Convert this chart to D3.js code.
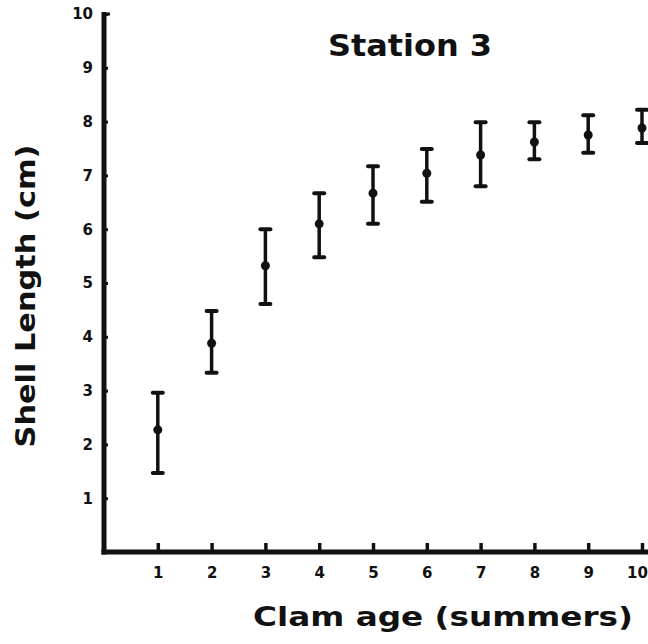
<!DOCTYPE html>
<html><head><meta charset="utf-8">
<script src="https://cdn.jsdelivr.net/npm/d3@7"></script>
<style>body{margin:0;background:#fff}</style>
</head><body>
<svg id="c" width="648" height="644"></svg>
<script>
const ages = [1, 2, 3, 4, 5, 6, 7, 8, 9, 10];
const meanLength  = [2.27, 3.88, 5.32, 6.10, 6.67, 7.04, 7.38, 7.62, 7.75, 7.88];
const upperLength = [2.96, 4.48, 6.00, 6.67, 7.17, 7.49, 7.99, 7.99, 8.12, 8.22];
const lowerLength = [1.47, 3.33, 4.61, 5.48, 6.10, 6.51, 6.80, 7.30, 7.42, 7.60];
const yTicks = [1, 2, 3, 4, 5, 6, 7, 8, 9, 10];
const xTicks = [1, 2, 3, 4, 5, 6, 7, 8, 9, 10];
const chartTitle = "Station 3";
const xTitle = "Clam age (summers)";
const yTitle = "Shell Length (cm)";

const W = 648, H = 644;
const ink = "#111";
const font = "'DejaVu Sans', 'Liberation Sans', sans-serif";
const svg = d3.select("#c");
svg.append("rect").attr("width", W).attr("height", H).attr("fill", "#fff");

const x = d3.scaleLinear().domain([0, 10]).range([104, 642]);
const y = d3.scaleLinear().domain([0, 10]).range([552, 14]);

// Y axis
const gy = svg.append("g").attr("transform", `translate(${x(0)},0)`)
  .call(d3.axisLeft(y).tickValues(yTicks).tickSizeInner(-4).tickSizeOuter(0)
    .tickPadding(11).tickFormat(d3.format("d")));
gy.select(".domain").remove();
gy.selectAll(".tick line").attr("stroke", ink).attr("stroke-width", 3);
gy.selectAll(".tick text").attr("fill", ink).attr("font-family", font)
  .attr("font-weight", "bold").attr("font-size", 15);

// X axis
const gx = svg.append("g").attr("transform", `translate(0,${y(0)})`)
  .call(d3.axisBottom(x).tickValues(xTicks).tickSizeInner(-9).tickSizeOuter(0)
    .tickPadding(15).tickFormat(d3.format("d")));
gx.select(".domain").remove();
gx.selectAll(".tick line").attr("stroke", ink).attr("stroke-width", 3.5);
gx.selectAll(".tick text").attr("fill", ink).attr("font-family", font)
  .attr("font-weight", "bold").attr("font-size", 15)
  .attr("dx", d => d === 10 ? -5 : 0);

// axis lines
svg.append("line").attr("x1", x(0)).attr("x2", x(0))
  .attr("y1", y(0) + 2.5).attr("y2", y(10) - 2)
  .attr("stroke", ink).attr("stroke-width", 5);
svg.append("line").attr("x1", x(0) - 2.5).attr("x2", W)
  .attr("y1", y(0)).attr("y2", y(0))
  .attr("stroke", ink).attr("stroke-width", 5);
svg.append("line").attr("x1", x(0) - 2).attr("x2", x(0) + 6)
  .attr("y1", y(10)).attr("y2", y(10))
  .attr("stroke", ink).attr("stroke-width", 3);

// error bars
const data = ages.map((a, i) => ({a, m: meanLength[i], u: upperLength[i], l: lowerLength[i]}));
const g = svg.append("g");
g.selectAll("line.stem").data(data).join("line").attr("class", "stem")
  .attr("x1", d => x(d.a)).attr("x2", d => x(d.a))
  .attr("y1", d => y(d.u)).attr("y2", d => y(d.l))
  .attr("stroke", ink).attr("stroke-width", 3.5);
g.selectAll("line.capU").data(data).join("line").attr("class", "capU")
  .attr("x1", d => x(d.a) - 5).attr("x2", d => x(d.a) + 5)
  .attr("y1", d => y(d.u)).attr("y2", d => y(d.u))
  .attr("stroke", ink).attr("stroke-width", 4).attr("stroke-linecap", "round");
g.selectAll("line.capL").data(data).join("line").attr("class", "capL")
  .attr("x1", d => x(d.a) - 5).attr("x2", d => x(d.a) + 5)
  .attr("y1", d => y(d.l)).attr("y2", d => y(d.l))
  .attr("stroke", ink).attr("stroke-width", 4).attr("stroke-linecap", "round");
g.selectAll("circle").data(data).join("circle")
  .attr("cx", d => x(d.a)).attr("cy", d => y(d.m)).attr("r", 4.5).attr("fill", ink);

// titles
svg.append("text").attr("x", 410).attr("y", 56).attr("text-anchor", "middle")
  .attr("font-family", font).attr("font-weight", "bold").attr("font-size", 30)
  .attr("textLength", 164).attr("lengthAdjust", "spacingAndGlyphs")
  .attr("fill", ink).text(chartTitle);
svg.append("text").attr("x", 253).attr("y", 626).attr("text-anchor", "start")
  .attr("font-family", font).attr("font-weight", "bold").attr("font-size", 27)
  .attr("textLength", 380).attr("lengthAdjust", "spacingAndGlyphs")
  .attr("fill", ink).text(xTitle);
svg.append("text").attr("transform", "translate(35,296) rotate(-90)")
  .attr("text-anchor", "middle")
  .attr("font-family", font).attr("font-weight", "bold").attr("font-size", 27)
  .attr("textLength", 303).attr("lengthAdjust", "spacingAndGlyphs")
  .attr("fill", ink).text(yTitle);
</script>
</body></html>
